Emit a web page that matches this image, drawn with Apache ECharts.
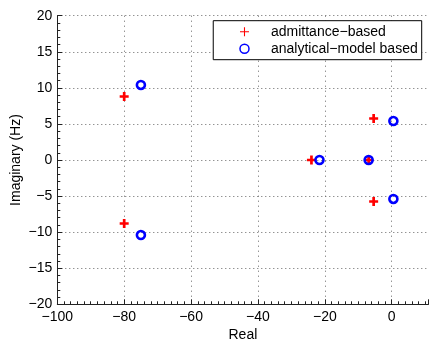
<!DOCTYPE html>
<html>
<head>
<meta charset="utf-8">
<script src="https://cdn.jsdelivr.net/npm/echarts@6/dist/echarts.min.js"></script>
<style>
  html, body { margin: 0; padding: 0; background: #fff; }
  #chart { width: 433px; height: 341px; }
</style>
</head>
<body>
<div id="chart"></div>
<script>
// Pole locations in the complex plane: real part and imaginary part (Hz)
const admittanceReal = [-80, -80, -24, -6.9, -5.4, -5.4];
const admittanceImag = [8.8, -8.8, 0, 0, 5.75, -5.75];
const analyticalReal = [-75, -75, -21.6, -6.9, 0.5, 0.5];
const analyticalImag = [10.4, -10.4, 0, 0, 5.4, -5.4];

const seriesNames = ['admittance\u2212based', 'analytical\u2212model based'];
const xTicks = [-100, -80, -60, -40, -20, 0];
const yTicks = [-20, -15, -10, -5, 0, 5, 10, 15, 20];

const FONT = 'Liberation Sans';
const plusThick = 'path://M3.5,0H6.5V3.5H10V6.5H6.5V10H3.5V6.5H0V3.5H3.5Z';
const plusThin = 'path://M4.4,0H5.6V4.4H10V5.6H5.6V10H4.4V5.6H0V4.4H4.4Z';

const pairs = (xs, ys) => xs.map((x, i) => [x, ys[i]]);
const minus = v => String(v).replace('-', '\u2212');

const dotted = gap => ({ show: true, lineStyle: { color: '#666', width: 1, type: [1, gap] } });

const chart = echarts.init(document.getElementById('chart'), null, { renderer: 'canvas' });
chart.setOption({
  animation: false,
  backgroundColor: '#fff',
  textStyle: { fontFamily: FONT },
  grid: { left: 57.3, right: 4.5, top: 15.7, bottom: 36.7, containLabel: false, outerBoundsMode: 'none' },
  xAxis: {
    type: 'value',
    min: xTicks[0],
    max: 11,
    interval: xTicks[1] - xTicks[0],
    name: 'Real',
    nameLocation: 'middle',
    nameGap: 24,
    nameMoveOverlap: false,
    nameTextStyle: { fontSize: 14, color: '#000', fontFamily: FONT },
    axisLine: { show: true, onZero: false, lineStyle: { color: '#222', width: 1 } },
    axisTick: { show: true, inside: true, length: 5, lineStyle: { color: '#222' } },
    minorTick: { show: true, splitNumber: 10, length: 3, lineStyle: { color: '#222' } },
    axisLabel: { fontSize: 14, color: '#000', margin: 6, fontFamily: FONT, showMaxLabel: false,
      formatter: v => xTicks.includes(v) ? minus(v) : '' },
    splitLine: Object.assign({ showMinLine: false, showMaxLine: false }, dotted(4))
  },
  yAxis: {
    type: 'value',
    min: yTicks[0],
    max: yTicks[yTicks.length - 1],
    interval: yTicks[1] - yTicks[0],
    name: 'Imaginary (Hz)',
    nameLocation: 'middle',
    nameGap: 34,
    nameMoveOverlap: false,
    nameTextStyle: { fontSize: 14, color: '#000', fontFamily: FONT },
    axisLine: { show: true, onZero: false, lineStyle: { color: '#222', width: 1 } },
    axisTick: { show: true, inside: true, length: 5, lineStyle: { color: '#222' } },
    minorTick: { show: true, splitNumber: 5, length: 3, lineStyle: { color: '#222' } },
    axisLabel: { fontSize: 14, color: '#000', margin: 5, fontFamily: FONT, formatter: v => minus(v) },
    splitLine: Object.assign({ showMinLine: false }, dotted(3))
  },
  legend: {
    orient: 'vertical',
    right: 11.3,
    top: 20.7,
    padding: [4, 4, 4, 26],
    itemGap: 3,
    itemWidth: 9,
    itemHeight: 9,
    backgroundColor: '#fff',
    borderColor: '#000',
    borderWidth: 1,
    borderRadius: 0,
    textStyle: { fontSize: 14, color: '#000', fontFamily: FONT, padding: [0, 0, 0, 17] },
    data: [
      { name: seriesNames[0], icon: plusThin, itemStyle: { color: '#ff0000', borderWidth: 0 } },
      { name: seriesNames[1], icon: 'circle',
        itemStyle: { color: 'rgba(0,0,0,0)', borderColor: '#0000ff', borderWidth: 1.5 } }
    ]
  },
  series: [
    {
      name: seriesNames[0],
      type: 'scatter',
      symbol: plusThick,
      symbolSize: 9,
      itemStyle: { color: '#ff0000', opacity: 1 },
      data: pairs(admittanceReal, admittanceImag),
      z: 2
    },
    {
      name: seriesNames[1],
      type: 'scatter',
      symbol: 'circle',
      symbolSize: 8,
      itemStyle: { color: 'rgba(0,0,0,0)', borderColor: '#0000ff', borderWidth: 2.6, opacity: 1 },
      data: pairs(analyticalReal, analyticalImag),
      z: 3
    }
  ]
});
</script>
</body>
</html>
